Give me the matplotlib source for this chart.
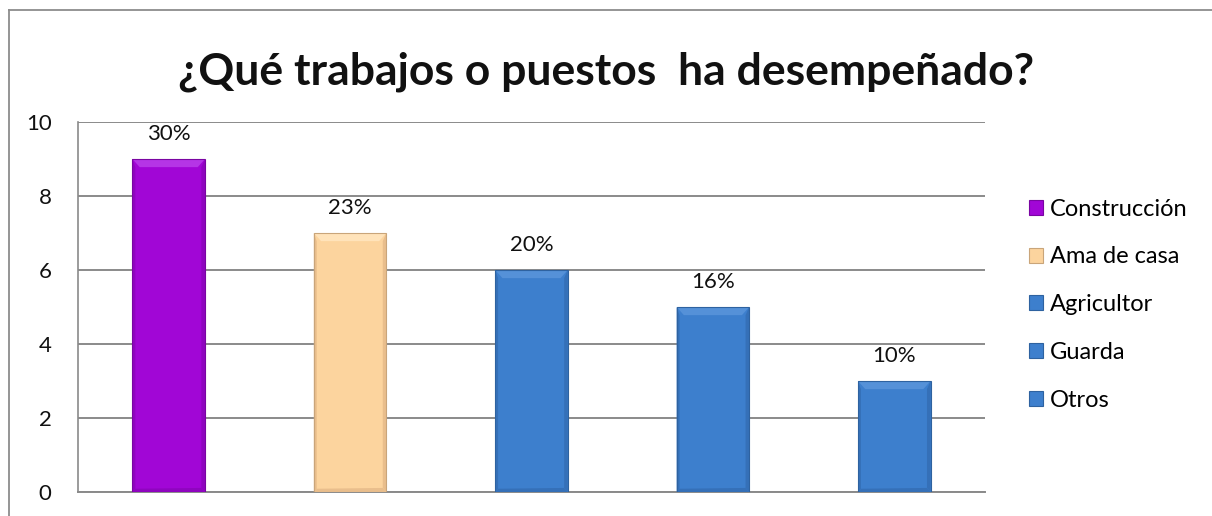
import matplotlib.pyplot as plt
import numpy as np
from matplotlib.lines import Line2D
from matplotlib.patches import Patch, Polygon

plt.rcParams['font.family'] = ['Lato', 'DejaVu Sans']

title = '¿Qué trabajos o puestos  ha desempeñado?'
categories = ['Construcción', 'Ama de casa', 'Agricultor', 'Guarda', 'Otros']
counts = [9, 7, 6, 5, 3]
pct_labels = ['30%', '23%', '20%', '16%', '10%']
colors = ['#A106D6', '#FCD49E', '#3D7FCD', '#3D7FCD', '#3D7FCD']
edge_colors = ['#7A05A2', '#C9A57A', '#2E62A0', '#2E62A0', '#2E62A0']
top_colors = ['#B535E6', '#FFE3BA', '#5591D8', '#5591D8', '#5591D8']
side_colors = ['#8F05BF', '#E9BE8C', '#3570B8', '#3570B8', '#3570B8']

W, H = 1212, 516
fig = plt.figure(figsize=(W / 100, H / 100), dpi=100)

# chart frame: only the top and left edges fall inside the canvas
frame_kw = dict(transform=fig.transFigure, color='#8c8c8c', linewidth=1.3)
fig.add_artist(Line2D([9 / W, 1], [(H - 10) / H] * 2, **frame_kw))
fig.add_artist(Line2D([9 / W] * 2, [0, (H - 10) / H], **frame_kw))

ax = fig.add_axes([78 / W, (H - 492) / H, 907 / W, 370 / H])

x = np.arange(len(categories))
bw = 0.4
bars = ax.bar(x, counts, width=bw, color=colors, linewidth=0, zorder=3)

# bevelled look: light top face, darker sides and base
dx, dy = 0.04, 0.22
for rect, top, side, edge in zip(bars, top_colors, side_colors, edge_colors):
    x0 = rect.get_x()
    x1 = x0 + rect.get_width()
    h = rect.get_height()
    faces = [
        ([(x0, h), (x1, h), (x1 - dx, h - dy), (x0 + dx, h - dy)], top),
        ([(x0, 0), (x0 + dx * 0.4, dy * 0.4), (x0 + dx * 0.4, h - dy), (x0, h)], side),
        ([(x1, 0), (x1 - dx * 0.5, dy * 0.5), (x1 - dx * 0.5, h - dy), (x1, h)], side),
        ([(x0, 0), (x1, 0), (x1 - dx * 0.5, dy * 0.5), (x0 + dx * 0.4, dy * 0.4)], side),
    ]
    for pts, fc in faces:
        ax.add_patch(Polygon(pts, closed=True, facecolor=fc, linewidth=0, zorder=4))
    ax.add_patch(Polygon([(x0, 0), (x0, h), (x1, h), (x1, 0)], closed=True,
                         fill=False, edgecolor=edge, linewidth=0.8, zorder=5))

for xi, c, lab in zip(x, counts, pct_labels):
    ax.annotate(lab, (xi, c), xytext=(0, 11), textcoords='offset points',
                ha='center', va='bottom', fontsize=16, color='#111111')

ax.set_xlim(-0.5, len(categories) - 0.5)
ax.set_ylim(0, 10)
ax.set_yticks(range(0, 11, 2))
ax.set_xticks([])
ax.yaxis.grid(True, color='#8a8a8a', linewidth=1.4, zorder=0)
ax.set_axisbelow(True)
ax.spines['right'].set_visible(False)
ax.spines['top'].set_visible(False)
ax.spines['left'].set_color('#8a8a8a')
ax.spines['bottom'].set_color('#8a8a8a')
ax.spines['left'].set_linewidth(1.2)
ax.spines['bottom'].set_linewidth(1.4)
ax.tick_params(axis='y', length=0, pad=19, labelsize=16, colors='#111111')

fig.text(0.5, (H - 72) / H, title, ha='center', va='center',
         fontsize=32, fontweight='bold', color='#111111')

handles = [Patch(facecolor=c, edgecolor=e, linewidth=0.8)
           for c, e in zip(colors, edge_colors)]
fig.legend(handles, categories, loc='upper left',
           bbox_to_anchor=(1017 / W, (H - 187) / H), frameon=False,
           fontsize=17, handlelength=0.6, handleheight=0.6,
           handletextpad=0.3, labelspacing=1.13, borderpad=0)

fig.savefig('out.png', dpi=100)
